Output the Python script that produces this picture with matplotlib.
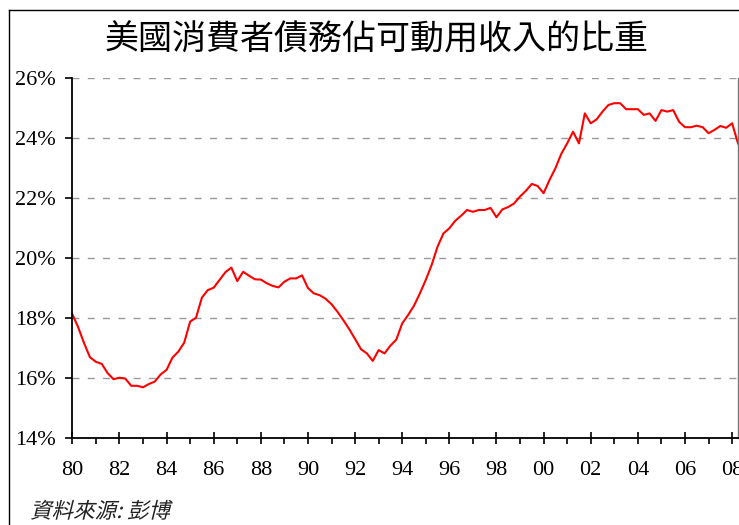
import numpy as np
import matplotlib
matplotlib.use('Agg')
import matplotlib.pyplot as plt
from matplotlib.lines import Line2D
from matplotlib.ticker import MultipleLocator, FuncFormatter
from matplotlib.textpath import TextPath
from matplotlib.patches import PathPatch
from matplotlib.font_manager import FontProperties
from matplotlib.transforms import Affine2D

# Consumer debt as share of disposable income (%), quarterly from 1980Q1
debt_ratio = [
    18.13, 17.69, 17.16, 16.69, 16.54, 16.47, 16.16, 15.96,
    16.01, 15.98, 15.74, 15.74, 15.69, 15.80, 15.88, 16.12,
    16.27, 16.68, 16.88, 17.18, 17.88, 18.01, 18.68, 18.93,
    19.01, 19.27, 19.53, 19.68, 19.23, 19.54, 19.41, 19.29,
    19.28, 19.16, 19.07, 19.02, 19.21, 19.32, 19.32, 19.42,
    19.00, 18.82, 18.76, 18.64, 18.46, 18.21, 17.93, 17.63,
    17.30, 16.96, 16.82, 16.57, 16.93, 16.82, 17.08, 17.28,
    17.82, 18.10, 18.41, 18.82, 19.27, 19.77, 20.38, 20.82,
    20.99, 21.24, 21.41, 21.60, 21.54, 21.60, 21.60, 21.67,
    21.36, 21.62, 21.70, 21.82, 22.05, 22.24, 22.47, 22.40,
    22.16, 22.60, 22.99, 23.47, 23.82, 24.21, 23.82, 24.82,
    24.49, 24.62, 24.88, 25.10, 25.16, 25.16, 24.96, 24.96,
    24.96, 24.77, 24.82, 24.57, 24.93, 24.88, 24.93, 24.54,
    24.36, 24.36, 24.41, 24.36, 24.16, 24.27, 24.40, 24.34,
    24.49, 23.82,
]
start_year = 1980
year_labels = ['80', '82', '84', '86', '88', '90', '92', '94',
               '96', '98', '00', '02', '04', '06', '08']
y_ticks = [14, 16, 18, 20, 22, 24, 26]

title = '美國消費者債務佔可動用收入的比重'
source = '資料來源: 彭博'

years = start_year + np.arange(len(debt_ratio)) / 4.0

W, H = 739, 525
fig = plt.figure(figsize=(W / 100, H / 100), dpi=100)
ax = fig.add_axes([72.3 / W, 1 - 438 / H, (738 - 72.3) / W, (438 - 78) / H])

ax.plot(years, debt_ratio, color='#ff0000', lw=1.5)

ax.set_xlim(years[0], years[-1])
ax.set_ylim(14, 26)
ax.set_yticks(y_ticks)
ax.yaxis.set_major_formatter(FuncFormatter(lambda v, p: '%d%%' % v))

major_x = [start_year + 2 * i for i in range(len(year_labels))]
ax.set_xticks(major_x)
ax.set_xticklabels(year_labels)
ax.xaxis.set_minor_locator(MultipleLocator(1))

# dashed gridlines (the 26% one doubles as top border)
for v in y_ticks[1:]:
    ax.axhline(v, color='#999999', lw=1.0, dashes=(5, 6), zorder=0)

for s in ['left', 'bottom']:
    ax.spines[s].set_color('black')
    ax.spines[s].set_linewidth(1.3)
ax.spines['top'].set_visible(False)
ax.spines['right'].set_color('#777777')
ax.spines['right'].set_linewidth(1.0)

ax.tick_params(axis='y', direction='out', length=5, width=1.2, pad=7,
               labelsize=16, color='black')
ax.tick_params(axis='x', which='major', direction='inout', length=9, width=1.2,
               pad=12, labelsize=16)
ax.tick_params(axis='x', which='minor', direction='out', length=4, width=1.2)
for lab in ax.get_xticklabels() + ax.get_yticklabels():
    lab.set_fontfamily('Liberation Serif')

fig.text(377 / W, 1 - 40 / H, title, ha='center', va='center', fontsize=24.5,
         family=['Noto Sans CJK TC', 'DejaVu Sans'])

# source note, slanted by hand since the CJK font has no italic
fp = FontProperties(family='Noto Sans CJK TC', size=15.5, weight='light')
tp = TextPath((0, 0), source, prop=fp)
tr = Affine2D().skew_deg(14, 0).scale(100 / 72.0).translate(30, 7)
fig.add_artist(PathPatch(tr.transform_path(tp), facecolor='#222222', lw=0,
                         transform=None))

# frame around the chart (cropped on right and bottom)
fig.add_artist(Line2D([9 / W, 9 / W], [0, 1 - 10 / H], color='black', lw=1.0,
                      transform=fig.transFigure))
fig.add_artist(Line2D([9 / W, 1], [1 - 10 / H, 1 - 10 / H], color='black', lw=1.0,
                      transform=fig.transFigure))

fig.savefig('out.png', dpi=100)
